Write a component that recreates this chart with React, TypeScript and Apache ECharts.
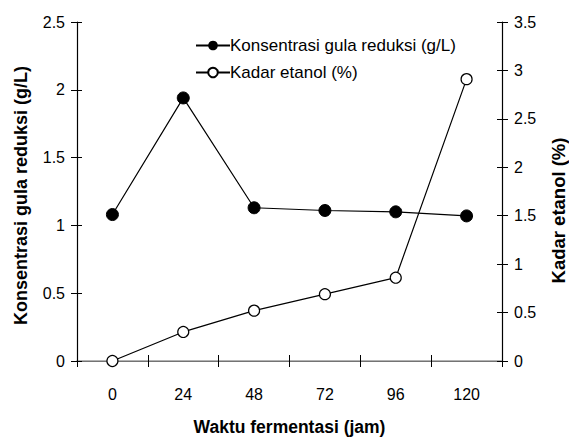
import React, { useEffect, useRef } from "react";
import * as echarts from "echarts";

const categories = ["0", "24", "48", "72", "96", "120"];
const gulaReduksi = [1.08, 1.94, 1.13, 1.11, 1.1, 1.07];
const kadarEtanol = [0, 0.3, 0.52, 0.69, 0.86, 2.91];
const leftTicks = { min: 0, max: 2.5, interval: 0.5 };
const rightTicks = { min: 0, max: 3.5, interval: 0.5 };
const xTitle = "Waktu fermentasi (jam)";
const leftTitle = "Konsentrasi gula reduksi (g/L)";
const rightTitle = "Kadar etanol (%)";

const FONT = "Liberation Sans, Arial, sans-serif";

export default function App() {
  const ref = useRef<HTMLDivElement>(null);
  useEffect(() => {
    if (!ref.current) return;
    const chart = echarts.init(ref.current, undefined, { renderer: "svg" });
    const lbl = { color: "#000", fontFamily: FONT, fontSize: 16 };
    const nameStyle = { color: "#000", fontFamily: FONT, fontSize: 17.5, fontWeight: "bold" as const };
    chart.setOption({
      animation: false,
      backgroundColor: "#fff",
      grid: { left: 77, right: 67, top: 22, bottom: 78, containLabel: false, outerBoundsMode: "none" },
      legend: {
        orient: "vertical",
        left: 190,
        top: 32,
        itemWidth: 34,
        itemHeight: 12,
        itemGap: 10,
        textStyle: { color: "#000", fontFamily: FONT, fontSize: 17, padding: [0, 0, 0, -5] },
        data: [leftTitle, rightTitle],
      },
      xAxis: [
        {
          type: "category",
          data: categories,
          position: "bottom",
          boundaryGap: true,
          name: xTitle,
          nameLocation: "middle",
          nameGap: 57,
          nameTextStyle: nameStyle,
          axisLine: { lineStyle: { color: "#000", width: 1.2 } },
          axisTick: { show: true, length: 6, lineStyle: { color: "#000" } },
          axisLabel: { ...lbl, margin: 25 },
          splitLine: { show: false },
        },
        {
          type: "category",
          data: categories,
          position: "top",
          axisLine: { lineStyle: { color: "#999", width: 1.5 } },
          axisTick: { show: false },
          axisLabel: { show: false },
          splitLine: { show: false },
        },
        {
          type: "category",
          data: categories,
          position: "bottom",
          axisLine: { show: false },
          axisTick: { show: true, inside: true, length: 6, lineStyle: { color: "#000" } },
          axisLabel: { show: false },
          splitLine: { show: false },
        },
      ],
      yAxis: [
        {
          type: "value",
          position: "left",
          ...leftTicks,
          name: leftTitle,
          nameLocation: "middle",
          nameGap: 47,
          nameRotate: 90,
          nameTextStyle: { ...nameStyle, fontSize: 18, padding: [0, 8, 0, 0] },
          axisLine: { show: true, lineStyle: { color: "#000", width: 1.2 } },
          axisTick: { show: true, length: 6, lineStyle: { color: "#000" } },
          axisLabel: { ...lbl, margin: 12 },
          splitLine: { show: false },
        },
        {
          type: "value",
          position: "right",
          ...rightTicks,
          name: rightTitle,
          nameLocation: "middle",
          nameGap: 47,
          nameRotate: 90,
          nameTextStyle: { ...nameStyle, fontSize: 18.5, padding: [0, 38, 0, 0] },
          axisLine: { show: true, lineStyle: { color: "#000", width: 1.2 } },
          axisTick: { show: true, length: 6, lineStyle: { color: "#000" } },
          axisLabel: { ...lbl, margin: 12 },
          splitLine: { show: false },
        },
        {
          type: "value",
          position: "left",
          ...leftTicks,
          axisLine: { show: false },
          axisTick: { show: true, inside: true, length: 5, lineStyle: { color: "#000" } },
          axisLabel: { show: false },
          splitLine: { show: false },
        },
        {
          type: "value",
          position: "right",
          ...rightTicks,
          axisLine: { show: false },
          axisTick: { show: true, inside: true, length: 5, lineStyle: { color: "#000" } },
          axisLabel: { show: false },
          splitLine: { show: false },
        },
      ],
      series: [
        {
          name: leftTitle,
          type: "line",
          xAxisIndex: 0,
          yAxisIndex: 0,
          data: gulaReduksi,
          symbol: "circle",
          symbolSize: 12,
          lineStyle: { color: "#000", width: 1.2 },
          itemStyle: { color: "#000", borderColor: "#000" },
          z: 3,
        },
        {
          name: rightTitle,
          type: "line",
          xAxisIndex: 0,
          yAxisIndex: 1,
          data: kadarEtanol,
          symbol: "circle",
          symbolSize: 11,
          lineStyle: { color: "#000", width: 1.2 },
          itemStyle: { color: "#fff", borderColor: "#000", borderWidth: 1.2 },
          z: 3,
        },
      ],
    });
    return () => chart.dispose();
  }, []);
  return <div ref={ref} style={{ width: 569, height: 439, position: "absolute", left: 0, top: 0 }} />;
}
